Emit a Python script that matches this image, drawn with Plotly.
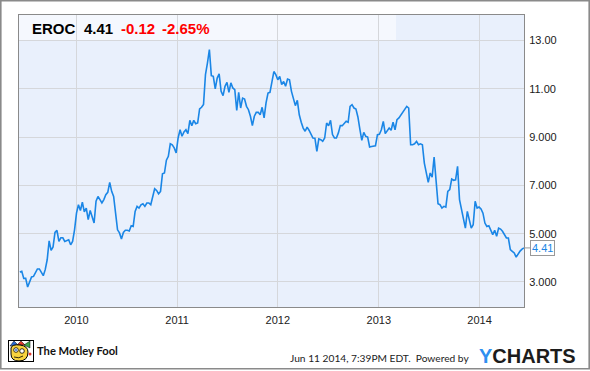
import base64
import pandas as pd
import plotly.graph_objects as go

# ---- data ----
ticker = "EROC"
last_price = 4.41
change = "-0.12"
change_pct = "-2.65%"
start_date = "2009-06-10"
end_date = "2014-06-11"

values = [
    3.41, 3.44, 3.15, 3.15, 2.79, 2.99, 3.21, 3.23, 3.37, 3.54, 3.54, 3.37, 3.26,
    3.51, 3.92, 4.70, 4.31, 4.45, 5.05, 5.14, 4.68, 4.83, 4.83, 4.68, 4.71, 4.75,
    4.54, 4.68, 5.16, 5.85, 6.20, 5.96, 6.30, 5.90, 6.06, 5.58, 5.96, 5.65, 5.44,
    6.34, 6.54, 6.41, 6.27, 6.41, 6.61, 6.71, 7.12, 6.75, 6.54, 5.85, 5.16, 5.03,
    4.78, 5.05, 5.14, 5.14, 5.11, 5.33, 5.30, 5.92, 6.13, 6.06, 6.19, 6.24, 6.13,
    6.27, 6.27, 6.20, 6.54, 6.86, 6.79, 6.65, 6.75, 7.48, 7.51, 8.04, 8.20, 8.72,
    8.68, 8.55, 8.34, 8.96, 9.30, 9.03, 9.21, 9.30, 9.14, 9.69, 9.47, 9.69, 9.55,
    9.58, 10.16, 10.23, 10.35, 11.58, 12.06, 12.62, 11.54, 11.51, 10.99, 11.44,
    11.61, 10.89, 10.71, 11.10, 11.26, 10.85, 11.24, 11.03, 10.96, 10.10, 10.85,
    10.20, 10.61, 10.57, 10.27, 10.13,
    9.86, 9.47, 9.86, 10.02, 10.02, 9.92, 10.23, 9.79, 10.41, 10.82, 10.85, 11.37,
    11.71, 11.58, 11.37, 11.51, 11.17, 11.30, 11.10, 11.40, 11.37, 10.89, 10.61,
    10.30, 10.52, 9.92, 9.61, 9.37, 9.24, 9.41, 9.28, 9.10, 8.96, 8.95, 8.41, 8.92,
    8.89, 8.82, 8.96, 9.58, 9.47, 9.69, 9.10, 8.96, 8.96, 9.17, 9.47, 9.47, 9.58,
    9.65, 9.61, 10.27, 10.34, 10.20, 10.16, 9.83, 9.33, 8.86, 9.19, 9.03, 9.00,
    8.59, 8.61, 8.61, 8.64, 9.10, 9.11, 9.30, 9.65, 9.14, 9.24, 9.37, 9.28, 9.61,
    9.30, 9.72, 9.79, 9.92, 10.06, 10.16, 10.27, 10.20, 8.68, 8.68, 8.72, 8.82,
    8.68, 8.72, 8.68, 7.92, 7.51, 7.12, 7.51, 7.34, 8.17, 7.23, 6.24, 6.20, 6.06,
    6.13, 6.10, 6.75, 6.82, 7.26, 7.21, 7.23, 7.79, 6.41, 6.06, 5.65, 5.23, 5.92,
    5.58, 5.23, 5.37, 6.34, 6.06, 6.10, 6.02, 5.85, 5.44, 5.30, 5.33, 5.16, 4.96,
    5.14, 4.89, 5.23, 5.19, 5.10, 4.96, 4.82, 4.82, 4.34, 4.27, 4.20, 4.03, 4.17,
    4.28, 4.36, 4.41,
]

year_ticks = ["2010-01-01", "2011-01-01", "2012-01-01", "2013-01-01", "2014-01-01"]
year_labels = ["2010", "2011", "2012", "2013", "2014"]
y_ticks = [3, 5, 7, 9, 11, 13]
y_labels = ["3.000", "5.000", "7.000", "9.000", "11.00", "13.00"]

dates = pd.date_range(start_date, end_date, periods=len(values))

W, H = 590, 371
L, R, T, B = 19, 66, 15, 64
PW, PH = W - L - R, H - T - B
COMPACT = "Lato, Roboto, Liberation Sans, Arial, sans-serif"


def px(xp):
    return (xp - L) / PW


def py(yp):
    return (H - B - yp) / PH


fig = go.Figure()
fig.add_trace(go.Scatter(
    x=dates, y=values, mode="lines",
    line=dict(color="#1a86e6", width=1.6),
    hoverinfo="skip", showlegend=False,
))

grid = "#d5d7db"
border = "#8a8a8a"
fig.update_layout(
    width=W, height=H,
    margin=dict(l=L, r=R, t=T, b=B),
    paper_bgcolor="white",
    plot_bgcolor="#e9f0fc",
    font=dict(family="Liberation Sans, Arial, sans-serif", color="#222222"),
    xaxis=dict(
        type="date",
        range=["2009-06-07", end_date],
        tickvals=year_ticks, ticktext=year_labels,
        showgrid=True, gridcolor=grid, gridwidth=1,
        showline=True, linecolor=border, linewidth=1, mirror=True,
        ticks="outside", ticklen=3, tickcolor="rgba(0,0,0,0)",
        tickfont=dict(size=11, color="#222222"),
        zeroline=False, fixedrange=True,
    ),
    yaxis=dict(
        range=[1.965, 14.05],
        side="right",
        tickvals=y_ticks, ticktext=y_labels,
        showgrid=True, gridcolor=grid, gridwidth=1,
        showline=True, linecolor=border, linewidth=1, mirror=True,
        ticks="outside", ticklen=2, tickcolor="rgba(0,0,0,0)",
        tickfont=dict(size=11, color="#1a1a1a"),
        zeroline=False, fixedrange=True,
    ),
)

# header overlay band
fig.add_shape(type="rect", xref="paper", yref="paper",
              x0=0, x1=px(396), y0=py(40.7), y1=1,
              fillcolor="rgba(255,255,255,0.55)", line=dict(width=0), layer="below")

# outer frame
fig.add_shape(type="rect", xref="paper", yref="paper",
              x0=px(0.8), x1=px(589.2), y0=py(368.8), y1=py(0.8),
              line=dict(color="#8a8a8a", width=1.6), fillcolor="rgba(0,0,0,0)")

# header texts
hy = py(28.5)
for txt, xl, col in [
    ("<b>" + ticker + "</b>", 30, "#000000"),
    ("<b>" + f"{last_price:.2f}" + "</b>", 82, "#000000"),
    ("<b>" + change + "</b>", 119, "#ff0000"),
    ("<b>" + change_pct + "</b>", 160, "#ff0000"),
]:
    fig.add_annotation(x=px(xl), y=hy, xref="paper", yref="paper", text=txt,
                       showarrow=False, xanchor="left", yanchor="middle",
                       font=dict(size=15, color=col, family="Liberation Sans, Arial, sans-serif"))

# last value callout
fig.add_annotation(x=dates[-1], y=last_price, xref="x", yref="y",
                   text=f"{last_price:.2f}", showarrow=True, arrowhead=0,
                   arrowcolor="#999999", arrowwidth=1, ax=6, ay=0,
                   xanchor="left", yanchor="middle",
                   bgcolor="white", bordercolor="#999999", borderwidth=1, borderpad=1,
                   font=dict(size=11, color="#1a86e6"))

# footer
fig.add_annotation(x=px(288), y=py(357.5), xref="paper", yref="paper",
                   text="Jun 11 2014, 7:39PM EDT.&nbsp; Powered by", showarrow=False,
                   xanchor="left", yanchor="middle",
                   font=dict(size=10.2, color="#222222", family=COMPACT))
fig.add_annotation(x=px(477), y=py(356), xref="paper", yref="paper",
                   text="<b><span style='color:#2f8ff0'>Y</span>CHARTS</b>", showarrow=False,
                   xanchor="left", yanchor="middle",
                   font=dict(size=20, color="#1c1c1c", family="Liberation Sans, Arial, sans-serif"))
fig.add_annotation(x=px(35), y=py(350.5), xref="paper", yref="paper",
                   text="<b>The Motley Fool</b>", showarrow=False,
                   xanchor="left", yanchor="middle",
                   font=dict(size=11.2, color="#111111", family=COMPACT))

svg = ('<svg xmlns="http://www.w3.org/2000/svg" width="26" height="22" viewBox="0 0 26 22">'
       '<rect x="0.5" y="0.5" width="25" height="21" fill="white" stroke="black"/>'
       '<path d="M2 6 L6 1 L10 5 Z" fill="#2a6dd6" stroke="black" stroke-width="0.5"/>'
       '<path d="M9 5 L13 1 L17 5 Z" fill="#e23b2e" stroke="black" stroke-width="0.5"/>'
       '<path d="M16 5 L22 1 L22 8 Z" fill="#3aa84a" stroke="black" stroke-width="0.5"/>'
       '<path d="M3 8 Q4 4 12 5 Q20 6 20 12 Q20 21 11 21 Q3 21 3 14 Z" fill="#f7d23e" stroke="black"/>'
       '<circle cx="8" cy="10" r="2.3" fill="white" stroke="black" stroke-width="0.8"/>'
       '<circle cx="8" cy="10" r="0.9" fill="#1a5fd0"/>'
       '<circle cx="14" cy="11" r="2.3" fill="white" stroke="black" stroke-width="0.8"/>'
       '<path d="M6 17 Q11 19 15 16" fill="none" stroke="black" stroke-width="0.8"/>'
       '<circle cx="22" cy="14" r="1.5" fill="#e23b2e"/>'
       '</svg>')
src = "data:image/svg+xml;base64," + base64.b64encode(svg.encode()).decode()
fig.add_layout_image(source=src, xref="paper", yref="paper",
                     x=px(8), y=py(340), sizex=26 / PW, sizey=22 / PH,
                     xanchor="left", yanchor="top", sizing="stretch", layer="above")

fig.write_html("out.html")
